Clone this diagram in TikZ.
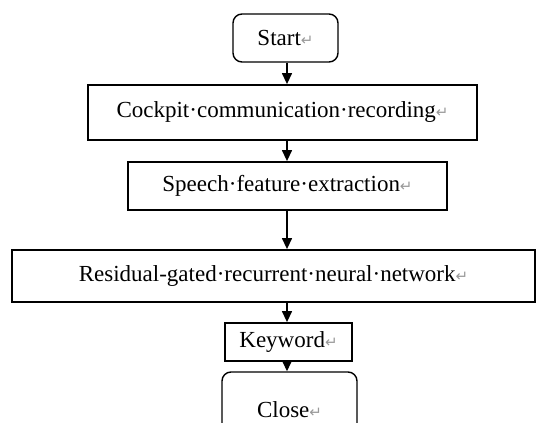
\documentclass[tikz,border=0pt]{standalone}
\usepackage{fontspec}
\setmainfont{Liberation Serif}
\newfontfamily\symfont{DejaVu Sans}
\usetikzlibrary{arrows.meta}
% paragraph mark shown after each label
\newcommand\retmark{{\symfont\fontsize{15}{15}\selectfont\color{black!40}↵}}
\begin{document}
\begin{tikzpicture}[x=1pt,y=-1pt,
  stepbox/.style={draw, line width=1.8pt, inner sep=0pt,
    font=\fontsize{23}{27}\selectfont},
  endbox/.style={stepbox, rounded corners=9pt, line width=1.4pt},
  flow/.style={line width=1.3pt, -{Triangle[width=10pt,length=11pt]}}]
\useasboundingbox (0,0) rectangle (550,423);
\clip (0,0) rectangle (550,423);

% vertical axis shared by all connectors
\coordinate (axis) at (287,0);

\node[endbox, minimum width=105pt, minimum height=48pt] (start) at (285.5,38) {Start\retmark};
\node[stepbox, minimum width=389pt, minimum height=55pt] (rec) at (282.5,112.5) {Cockpit·communication·recording\retmark};
\node[stepbox, minimum width=319pt, minimum height=48pt] (feat) at (287.5,186) {Speech·feature·extraction\retmark};
\node[stepbox, minimum width=523pt, minimum height=52pt] (rgrnn) at (273.5,276) {Residual-gated·recurrent·neural·network\retmark};
\node[stepbox, minimum width=127pt, minimum height=38pt] (kw) at (288.5,342) {Keyword\retmark};
\node[endbox, minimum width=135pt, minimum height=76pt] (close) at (289.5,410) {Close\retmark};

\draw[flow] (start.south -| axis) -- (rec.north -| axis);
\draw[flow] (rec.south -| axis) -- (feat.north -| axis);
\draw[flow] (feat.south -| axis) -- (rgrnn.north -| axis);
\draw[flow] (rgrnn.south -| axis) -- (kw.north -| axis);
\draw[flow] (kw.south -| axis) -- (close.north -| axis);
\end{tikzpicture}
\end{document}
